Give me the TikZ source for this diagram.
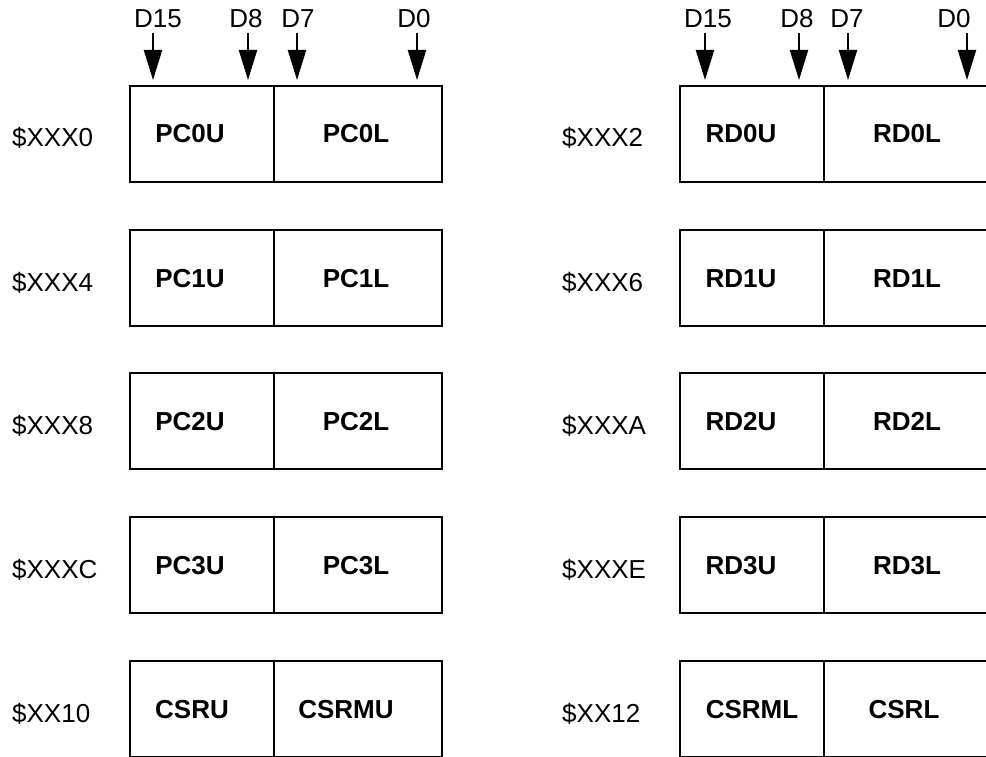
\documentclass[tikz,border=0pt]{standalone}
\usepackage{fontspec}
\setmainfont{Liberation Sans}
\usetikzlibrary{arrows.meta}
\begin{document}
\begin{tikzpicture}[x=1pt,y=-1pt,
  hbox/.style={draw,line width=2.6pt,minimum height=96pt,inner sep=0pt,outer sep=0pt,anchor=north west},
  narrowbox/.style={hbox,minimum width=144pt},
  widebox/.style={hbox,minimum width=168pt},
  reg/.style={font=\fontsize{26}{30}\selectfont\bfseries,anchor=base,inner sep=0pt},
  addr/.style={font=\fontsize{26}{30}\selectfont,anchor=base west,inner sep=0pt},
  bit/.style={font=\fontsize{26}{30}\selectfont,anchor=base,inner sep=0pt},
  arr/.style={line width=2.2pt,-{Triangle[length=30pt,width=18pt]},shorten >=6pt}]
\clip (0,0) rectangle (986,757);
\fill[white] (0,0) rectangle (986,757);
\foreach \r/\yy/\la/\lb/\ra/\rb/\aa/\ab/\xa/\xb/\xc/\xd in {
  0/86/PC0U/PC0L/RD0U/RD0L/\$XXX0/\$XXX2/190/356/741/907,
  1/230/PC1U/PC1L/RD1U/RD1L/\$XXX4/\$XXX6/190/356/741/907,
  2/373/PC2U/PC2L/RD2U/RD2L/\$XXX8/\$XXXA/190/356/741/907,
  3/517/PC3U/PC3L/RD3U/RD3L/\$XXXC/\$XXXE/190/356/741/907,
  4/661/CSRU/CSRMU/CSRML/CSRL/\$XX10/\$XX12/192/346/752/904}{
  \node[narrowbox] (la\r) at (130,\yy) {};
  \node[widebox] (lb\r) at (274,\yy) {};
  \node[narrowbox] (ra\r) at (680,\yy) {};
  \node[widebox] (rb\r) at (824,\yy) {};
  \node[reg] (tla\r) at (\xa,\yy+57) {\la};
  \node[reg] (tlb\r) at (\xb,\yy+57) {\lb};
  \node[reg] (tra\r) at (\xc,\yy+57) {\ra};
  \node[reg] (trb\r) at (\xd,\yy+57) {\rb};
  \node[addr] (al\r) at (12,\yy+61) {\aa};
  \node[addr] (ar\r) at (562,\yy+61) {\ab};
}
% bit labels and arrows, left
\node[bit] (lD15) at (158,28) {D15};
\node[bit] (lD8) at (246,28) {D8};
\node[bit] (lD7) at (298,28) {D7};
\node[bit] (lD0) at (414,28) {D0};
\coordinate (pl15) at (153,33);
\coordinate (pl8) at (248,33);
\coordinate (pl7) at (297,33);
\coordinate (pl0) at (417,33);
\draw[arr] (pl15) -- (pl15 |- la0.north);
\draw[arr] (pl8) -- (pl8 |- la0.north);
\draw[arr] (pl7) -- (pl7 |- lb0.north);
\draw[arr] (pl0) -- (pl0 |- lb0.north);
% right
\node[bit] (rD15) at (708,28) {D15};
\node[bit] (rD8) at (797,28) {D8};
\node[bit] (rD7) at (847,28) {D7};
\node[bit] (rD0) at (954,28) {D0};
\coordinate (pr15) at (705,33);
\coordinate (pr8) at (799,33);
\coordinate (pr7) at (848,33);
\coordinate (pr0) at (967,33);
\draw[arr] (pr15) -- (pr15 |- ra0.north);
\draw[arr] (pr8) -- (pr8 |- ra0.north);
\draw[arr] (pr7) -- (pr7 |- rb0.north);
\draw[arr] (pr0) -- (pr0 |- rb0.north);
\end{tikzpicture}
\end{document}
